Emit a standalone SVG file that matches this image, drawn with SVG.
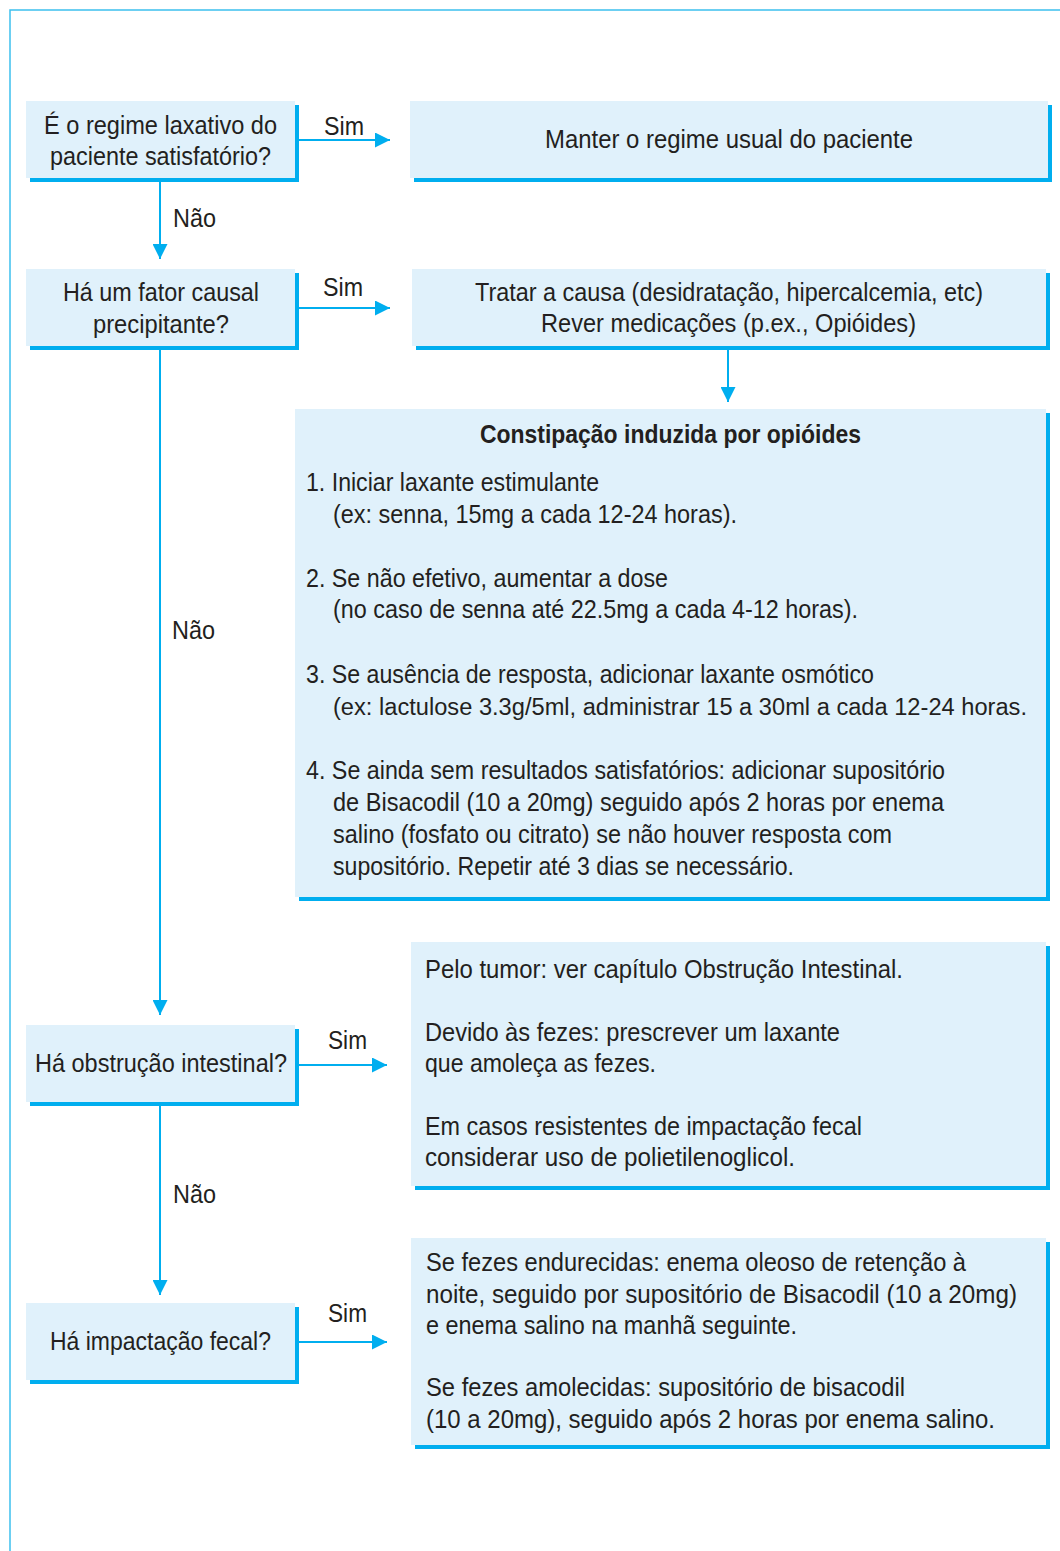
<svg xmlns="http://www.w3.org/2000/svg" width="1060" height="1551" viewBox="0 0 1060 1551">
<style>
.fill{fill:#e0f1fb}
.shadow{fill:#00aeef}
.t{font-family:"Liberation Sans",Arial,sans-serif;font-size:25px;fill:#231f20}
.s{font-size:23.5px}
.b{font-weight:bold}
.ln{stroke:#00aeef;stroke-width:2;fill:none}
.frame{stroke:#3cc0ee;stroke-width:1.5;fill:none}
</style>
<defs>
<marker id="ah" markerWidth="15" markerHeight="15" refX="15" refY="7.5" orient="auto" markerUnits="userSpaceOnUse">
<path d="M0,0 L15,7.5 L0,15 Z" fill="#00aeef"/>
</marker>
</defs>
<rect width="1060" height="1551" fill="#ffffff"/>
<path class="frame" d="M1060,10 H10 V1551"/>

<g id="connectors">
<line class="ln" x1="298" y1="140" x2="390" y2="140" marker-end="url(#ah)"/>
<line class="ln" x1="298" y1="308" x2="390" y2="308" marker-end="url(#ah)"/>
<line class="ln" x1="298" y1="1065" x2="387" y2="1065" marker-end="url(#ah)"/>
<line class="ln" x1="298" y1="1342" x2="387" y2="1342" marker-end="url(#ah)"/>
<line class="ln" x1="160" y1="182" x2="160" y2="259" marker-end="url(#ah)"/>
<line class="ln" x1="160" y1="349" x2="160" y2="1015" marker-end="url(#ah)"/>
<line class="ln" x1="160" y1="1105" x2="160" y2="1295" marker-end="url(#ah)"/>
<line class="ln" x1="728" y1="349" x2="728" y2="402" marker-end="url(#ah)"/>
<text class="t" x="324" y="135" textLength="40" lengthAdjust="spacingAndGlyphs">Sim</text>
<text class="t" x="323" y="296" textLength="40" lengthAdjust="spacingAndGlyphs">Sim</text>
<text class="t" x="328" y="1049" textLength="39" lengthAdjust="spacingAndGlyphs">Sim</text>
<text class="t" x="328" y="1322" textLength="39" lengthAdjust="spacingAndGlyphs">Sim</text>
<text class="t" x="173" y="227" textLength="43" lengthAdjust="spacingAndGlyphs">Não</text>
<text class="t" x="172" y="639" textLength="43" lengthAdjust="spacingAndGlyphs">Não</text>
<text class="t" x="173" y="1203" textLength="43" lengthAdjust="spacingAndGlyphs">Não</text>
</g>

<g id="q1">
<rect class="shadow" x="30" y="105" width="269" height="77"/>
<rect class="fill" x="26" y="101" width="269" height="77"/>
<text class="t" x="44" y="134" textLength="233" lengthAdjust="spacingAndGlyphs">É o regime laxativo do</text>
<text class="t" x="50" y="165" textLength="221" lengthAdjust="spacingAndGlyphs">paciente satisfatório?</text>
</g>

<g id="a1">
<rect class="shadow" x="414" y="105" width="638" height="77"/>
<rect class="fill" x="410" y="101" width="638" height="77"/>
<text class="t" x="545" y="148" textLength="368" lengthAdjust="spacingAndGlyphs">Manter o regime usual do paciente</text>
</g>

<g id="q2">
<rect class="shadow" x="30" y="273" width="269" height="77"/>
<rect class="fill" x="26" y="269" width="269" height="77"/>
<text class="t" x="63" y="301" textLength="196" lengthAdjust="spacingAndGlyphs">Há um fator causal</text>
<text class="t" x="93" y="333" textLength="136" lengthAdjust="spacingAndGlyphs">precipitante?</text>
</g>

<g id="a2">
<rect class="shadow" x="416" y="273" width="634" height="77"/>
<rect class="fill" x="412" y="269" width="634" height="77"/>
<text class="t" x="475" y="301" textLength="508" lengthAdjust="spacingAndGlyphs">Tratar a causa (desidratação, hipercalcemia, etc)</text>
<text class="t" x="541" y="332" textLength="375" lengthAdjust="spacingAndGlyphs">Rever medicações (p.ex., Opióides)</text>
</g>

<g id="opioid">
<rect class="shadow" x="299" y="413" width="751" height="488"/>
<rect class="fill" x="295" y="409" width="751" height="488"/>
<text class="t b" x="480" y="443" textLength="381" lengthAdjust="spacingAndGlyphs">Constipação induzida por opióides</text>
<text class="t" x="306" y="491" textLength="293" lengthAdjust="spacingAndGlyphs">1. Iniciar laxante estimulante</text>
<text class="t" x="333" y="523" textLength="404" lengthAdjust="spacingAndGlyphs">(ex: senna, 15mg a cada 12-24 horas).</text>
<text class="t" x="306" y="587" textLength="362" lengthAdjust="spacingAndGlyphs">2. Se não efetivo, aumentar a dose</text>
<text class="t" x="333" y="618" textLength="525" lengthAdjust="spacingAndGlyphs">(no caso de senna até 22.5mg a cada 4-12 horas).</text>
<text class="t" x="306" y="683" textLength="568" lengthAdjust="spacingAndGlyphs">3. Se ausência de resposta, adicionar laxante osmótico</text>
<text class="t s" x="333" y="715" textLength="694" lengthAdjust="spacingAndGlyphs">(ex: lactulose 3.3g/5ml, administrar 15 a 30ml a cada 12-24 horas.</text>
<text class="t" x="306" y="779" textLength="639" lengthAdjust="spacingAndGlyphs">4. Se ainda sem resultados satisfatórios: adicionar supositório</text>
<text class="t" x="333" y="811" textLength="611" lengthAdjust="spacingAndGlyphs">de Bisacodil (10 a 20mg) seguido após 2 horas por enema</text>
<text class="t" x="333" y="843" textLength="559" lengthAdjust="spacingAndGlyphs">salino (fosfato ou citrato) se não houver resposta com</text>
<text class="t" x="333" y="875" textLength="461" lengthAdjust="spacingAndGlyphs">supositório. Repetir até 3 dias se necessário.</text>
</g>

<g id="a3">
<rect class="shadow" x="415" y="946" width="635" height="244"/>
<rect class="fill" x="411" y="942" width="635" height="244"/>
<text class="t" x="425" y="978" textLength="478" lengthAdjust="spacingAndGlyphs">Pelo tumor: ver capítulo Obstrução Intestinal.</text>
<text class="t" x="425" y="1041" textLength="415" lengthAdjust="spacingAndGlyphs">Devido às fezes: prescrever um laxante</text>
<text class="t" x="425" y="1072" textLength="231" lengthAdjust="spacingAndGlyphs">que amoleça as fezes.</text>
<text class="t" x="425" y="1135" textLength="437" lengthAdjust="spacingAndGlyphs">Em casos resistentes de impactação fecal</text>
<text class="t" x="425" y="1166" textLength="370" lengthAdjust="spacingAndGlyphs">considerar uso de polietilenoglicol.</text>
</g>

<g id="q3">
<rect class="shadow" x="30" y="1029" width="269" height="77"/>
<rect class="fill" x="26" y="1025" width="269" height="77"/>
<text class="t" x="35" y="1072" textLength="252" lengthAdjust="spacingAndGlyphs">Há obstrução intestinal?</text>
</g>

<g id="q4">
<rect class="shadow" x="30" y="1307" width="269" height="77"/>
<rect class="fill" x="26" y="1303" width="269" height="77"/>
<text class="t" x="50" y="1350" textLength="221" lengthAdjust="spacingAndGlyphs">Há impactação fecal?</text>
</g>

<g id="a4">
<rect class="shadow" x="415" y="1242" width="635" height="207"/>
<rect class="fill" x="411" y="1238" width="635" height="207"/>
<text class="t" x="426" y="1271" textLength="540" lengthAdjust="spacingAndGlyphs">Se fezes endurecidas: enema oleoso de retenção à</text>
<text class="t" x="426" y="1303" textLength="591" lengthAdjust="spacingAndGlyphs">noite, seguido por supositório de Bisacodil (10 a 20mg)</text>
<text class="t" x="426" y="1334" textLength="371" lengthAdjust="spacingAndGlyphs">e enema salino na manhã seguinte.</text>
<text class="t" x="426" y="1396" textLength="479" lengthAdjust="spacingAndGlyphs">Se fezes amolecidas: supositório de bisacodil</text>
<text class="t" x="426" y="1428" textLength="569" lengthAdjust="spacingAndGlyphs">(10 a 20mg), seguido após 2 horas por enema salino.</text>
</g>
</svg>
